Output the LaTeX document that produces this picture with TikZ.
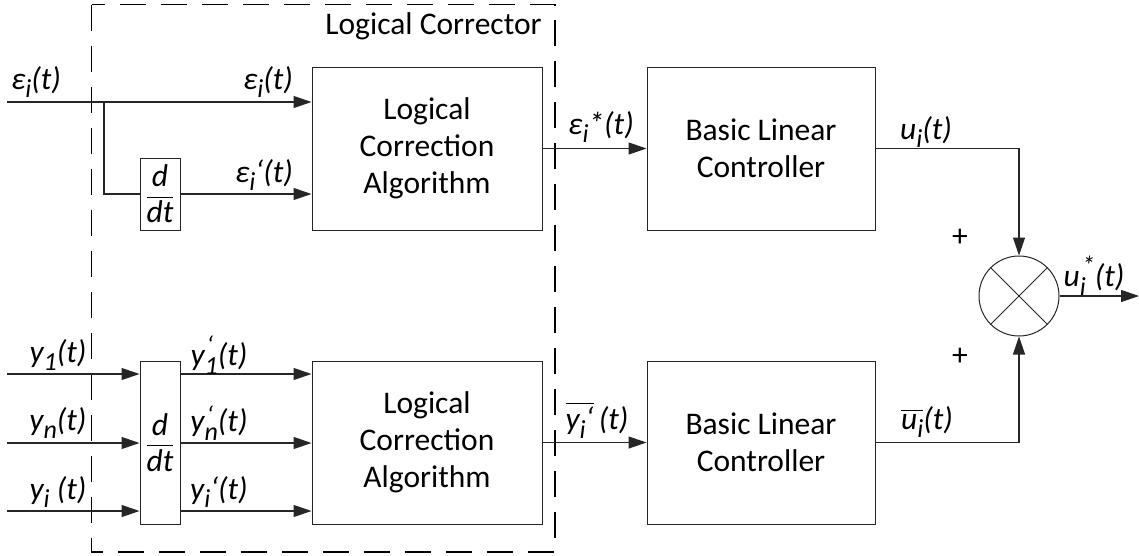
\documentclass[tikz,border=0pt]{standalone}
\usepackage{amsmath}
\usepackage{fontspec}
\setmainfont{Carlito}
\usetikzlibrary{arrows.meta}
\newcommand{\sbs}[1]{\raisebox{-0.28em}{\fontsize{26}{26}\selectfont #1}}
\newcommand{\sps}[1]{\raisebox{0.30em}{\fontsize{26}{26}\selectfont #1}}
\newcommand{\stk}[2]{\raisebox{-0.28em}{\fontsize{26}{26}\selectfont\setlength{\lineskip}{0pt}\shortstack[l]{\kern2pt#1\\#2}}}
\newcommand{\ovl}[1]{$\overline{\hbox{#1}}$}
\newcommand{\ddtfrac}{$\displaystyle\frac{\hbox{\itshape d}}{\hbox{\itshape dt}}$}
\begin{document}
\begin{tikzpicture}[x=1pt,y=-1pt,
  every node/.style={font=\fontsize{31.5}{37}\selectfont},
  blk/.style={draw=black!85, line width=1pt, inner sep=0pt, align=center},
  lab/.style={inner sep=0pt, font=\fontsize{31.5}{37}\selectfont\itshape},
  wire/.style={draw=black!85, line width=1.2pt},
  arr/.style={wire, -{Triangle[length=18pt,width=12pt]}},
  frame/.style={draw=black, line width=1.5pt, dash pattern=on 26pt off 15pt}]
\useasboundingbox (0,0) rectangle (1139,555);
\fill[white] (0,0) rectangle (1139,555);

% dashed frame
\draw[frame] (91.5,4.5) rectangle (555,552);
\node[inner sep=0pt] (lctitle) at (433.5,26) {Logical Corrector};

% blocks
\node[blk, minimum width=230pt, minimum height=163pt] (lca1) at (427,148.5) {Logical\\Correction\\Algorithm};
\node[blk, minimum width=230pt, minimum height=163pt] (lca2) at (427,442.5) {Logical\\Correction\\Algorithm};
\node[blk, minimum width=228pt, minimum height=163pt] (blc1) at (761,148.5) {Basic Linear\\Controller};
\node[blk, minimum width=228pt, minimum height=163pt] (blc2) at (761,442.5) {Basic Linear\\Controller};
\node[blk, minimum width=40pt, minimum height=72pt] (ddt1) at (160,194) {\ddtfrac};
\node[blk, minimum width=40pt, minimum height=163pt] (ddt2) at (160,442.5) {\ddtfrac};
\node[circle, draw=black!85, line width=1pt, minimum size=80pt, inner sep=0pt] (sum) at (1019,296) {};
\draw[line width=1pt, black!85] (sum.north west) -- (sum.south east) (sum.north east) -- (sum.south west);

% coordinates
\coordinate (in1) at (7,102);
\coordinate (br) at (104,102);
\coordinate (iy1) at (7,374);
\coordinate (iy2) at (7,443);
\coordinate (iy3) at (7,511);
\coordinate (out) at (1139,296);

% top path
\draw[arr] (in1) -- (in1 -| lca1.west);
\draw[wire] (br) |- (ddt1.west);
\draw[arr] (ddt1.east) -- (ddt1.east -| lca1.west);
\draw[arr] (lca1.east) -- (blc1.west);
\draw[arr] (blc1.east) -| (sum.north);

% bottom path
\foreach \c in {iy1,iy2,iy3}{
  \draw[arr] (\c) -- (\c -| ddt2.west);
  \draw[arr] (\c -| ddt2.east) -- (\c -| lca2.west);
}
\draw[arr] (lca2.east) -- (blc2.west);
\draw[arr] (blc2.east) -| (sum.south);
\draw[arr] (sum.east) -- (out);

% labels
\node[lab] (l1) at (36,82) {ε\sbs{i}(t)};
\node[lab] (l2) at (268,82) {ε\sbs{i}(t)};
\node[lab] (l3) at (264,175) {ε\sbs{i}‘(t)};
\node[lab] (l4) at (601,127) {ε\sbs{i}*(t)};
\node[lab] (l5) at (926,132) {u\sbs{i}(t)};
\node[lab] (l6) at (1094,276) {u\stk{*}{i}(t)};
\node[lab] (l7) at (927,422) {\ovl{u\sbs{i}}(t)};
\node[lab] (l8) at (597,420) {\ovl{y\sbs{i}‘}\,(t)};
\node[lab] (l9) at (58,355) {y\sbs{1}(t)};
\node[lab] (l10) at (58,423) {y\sbs{n}(t)};
\node[lab] (l11) at (58,492) {y\sbs{i} (t)};
\node[lab] (l12) at (219,355) {y\stk{‘}{1}(t)};
\node[lab] (l13) at (219,423) {y\stk{‘}{n}(t)};
\node[lab] (l14) at (219,492) {y\sbs{i}‘(t)};
\node[inner sep=0pt] (p1) at (960,238) {+};
\node[inner sep=0pt] (p2) at (960,357) {+};
\end{tikzpicture}
\end{document}
